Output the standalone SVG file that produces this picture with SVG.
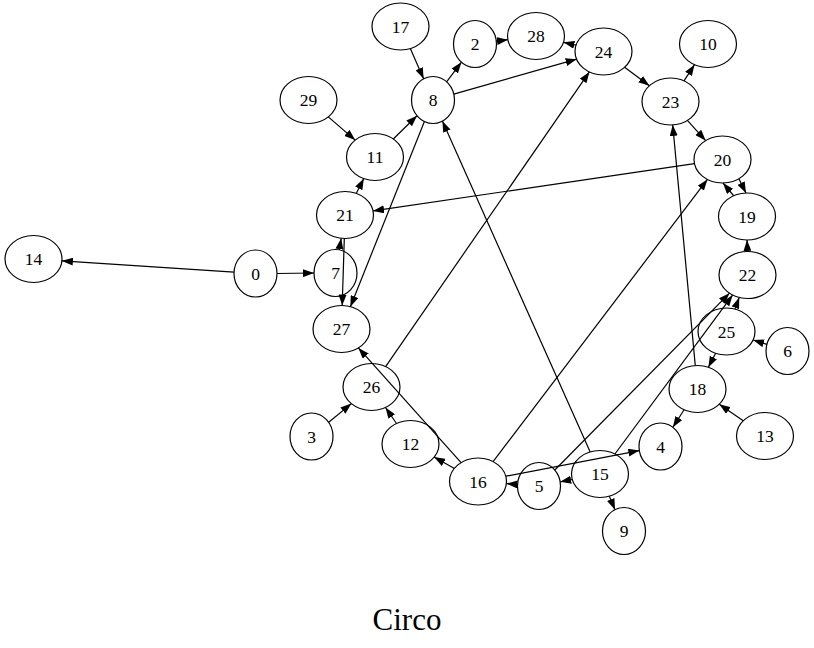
<svg xmlns="http://www.w3.org/2000/svg" width="814" height="648" viewBox="0 0 814 648">
<style>
.n ellipse{fill:none;stroke:#000;stroke-width:1.2}
.n text{font-family:"Liberation Serif","Times New Roman",serif;font-size:17.5px;text-anchor:middle;fill:#000}
.e line{stroke:#000;stroke-width:1.2;marker-end:url(#ah)}
.t{font-family:"Liberation Serif","Times New Roman",serif;font-size:31px;text-anchor:middle;fill:#000}
</style>
<defs>
<marker id="ah" markerUnits="userSpaceOnUse" viewBox="0 0 11 8" markerWidth="11" markerHeight="8" refX="11" refY="4" orient="auto"><path d="M0,0 L11,4 L0,8 z" fill="#000"/></marker>
</defs>
<rect width="814" height="648" fill="#fff"/>
<g id="edges" class="e">
<line x1="234.0" y1="272.1" x2="61.9" y2="260.9"/>
<line x1="277" y1="273.5" x2="314" y2="273"/>
<line x1="339.3" y1="249.9" x2="341.2" y2="238.3"/>
<line x1="344.3" y1="238.5" x2="342.2" y2="305.5"/>
<line x1="424.4" y1="121.5" x2="350.4" y2="306.7"/>
<line x1="694.4" y1="163.6" x2="373.1" y2="210.9"/>
<line x1="356.2" y1="193.4" x2="363.8" y2="178.6"/>
<line x1="328.3" y1="116.9" x2="355.2" y2="140.1"/>
<line x1="393.3" y1="139.0" x2="417.0" y2="115.7"/>
<line x1="410.3" y1="48.6" x2="423.6" y2="78.8"/>
<line x1="446.6" y1="81.8" x2="461.4" y2="62.2"/>
<line x1="496.3" y1="41.2" x2="507.9" y2="39.7"/>
<line x1="453.8" y1="94.1" x2="576.6" y2="59.2"/>
<line x1="576.0" y1="45.2" x2="563.5" y2="42.3"/>
<line x1="385.6" y1="366.6" x2="589.4" y2="71.9"/>
<line x1="624.6" y1="67.3" x2="649.4" y2="85.7"/>
<line x1="684.0" y1="80.8" x2="694.5" y2="64.7"/>
<line x1="687.4" y1="120.4" x2="705.6" y2="140.6"/>
<line x1="695.3" y1="365.6" x2="672.7" y2="124.9"/>
<line x1="733.5" y1="195.5" x2="723" y2="183"/>
<line x1="739" y1="179" x2="746" y2="193"/>
<line x1="747.5" y1="251.5" x2="747" y2="240"/>
<line x1="734.9" y1="309.0" x2="739.2" y2="297.5"/>
<line x1="554.8" y1="470.0" x2="729.5" y2="293.2"/>
<line x1="614.9" y1="454.0" x2="732.6" y2="295.1"/>
<line x1="715.6" y1="353.2" x2="708.4" y2="367.3"/>
<line x1="766.9" y1="344.4" x2="753.1" y2="340.0"/>
<line x1="743.2" y1="420.8" x2="719.3" y2="404.2"/>
<line x1="684.1" y1="409.8" x2="672.9" y2="427.3"/>
<line x1="505.8" y1="476.2" x2="639.3" y2="450.6"/>
<line x1="517.5" y1="484.4" x2="506.4" y2="483.6"/>
<line x1="572.3" y1="479.5" x2="560.2" y2="481.8"/>
<line x1="609.3" y1="496.2" x2="615.0" y2="509.7"/>
<line x1="590.2" y1="452.0" x2="442.4" y2="121.1"/>
<line x1="493.1" y1="461.6" x2="707.4" y2="179.4"/>
<line x1="454.4" y1="468.4" x2="434.1" y2="457.1"/>
<line x1="396.5" y1="423.5" x2="385.5" y2="407.5"/>
<line x1="328.7" y1="422.3" x2="351.4" y2="403.6"/>
<line x1="461.1" y1="462.6" x2="358.4" y2="347.9"/>
</g>
<g id="n0" class="n"><ellipse cx="255.5" cy="273.5" rx="21.5" ry="23.5"/><text x="255.5" y="279.5">0</text></g>
<g id="n2" class="n"><ellipse cx="475" cy="44" rx="21.5" ry="23.5"/><text x="475" y="50">2</text></g>
<g id="n3" class="n"><ellipse cx="311.5" cy="436.5" rx="21.5" ry="23.5"/><text x="311.5" y="442.5">3</text></g>
<g id="n4" class="n"><ellipse cx="660.5" cy="446.5" rx="21.5" ry="23.5"/><text x="660.5" y="452.5">4</text></g>
<g id="n5" class="n"><ellipse cx="539" cy="486" rx="21.5" ry="23.5"/><text x="539" y="492">5</text></g>
<g id="n6" class="n"><ellipse cx="787.5" cy="351" rx="21.5" ry="23.5"/><text x="787.5" y="357">6</text></g>
<g id="n7" class="n"><ellipse cx="335.5" cy="273" rx="21.5" ry="23.5"/><text x="335.5" y="279">7</text></g>
<g id="n8" class="n"><ellipse cx="433" cy="100" rx="21.5" ry="23.5"/><text x="433" y="106">8</text></g>
<g id="n9" class="n"><ellipse cx="624" cy="531" rx="21.5" ry="23.5"/><text x="624" y="537">9</text></g>
<g id="n10" class="n"><ellipse cx="708" cy="44" rx="28.5" ry="23.5"/><text x="708" y="50">10</text></g>
<g id="n11" class="n"><ellipse cx="375" cy="157" rx="28.5" ry="23.5"/><text x="375" y="163">11</text></g>
<g id="n12" class="n"><ellipse cx="410.5" cy="444" rx="28.5" ry="23.5"/><text x="410.5" y="450">12</text></g>
<g id="n13" class="n"><ellipse cx="765" cy="436" rx="28.5" ry="23.5"/><text x="765" y="442">13</text></g>
<g id="n14" class="n"><ellipse cx="33.5" cy="259" rx="28.5" ry="23.5"/><text x="33.5" y="265">14</text></g>
<g id="n15" class="n"><ellipse cx="600" cy="474" rx="28.5" ry="23.5"/><text x="600" y="480">15</text></g>
<g id="n16" class="n"><ellipse cx="478" cy="481.5" rx="28.5" ry="23.5"/><text x="478" y="487.5">16</text></g>
<g id="n17" class="n"><ellipse cx="400.5" cy="26.5" rx="28.5" ry="23.5"/><text x="400.5" y="32.5">17</text></g>
<g id="n18" class="n"><ellipse cx="697.5" cy="389" rx="28.5" ry="23.5"/><text x="697.5" y="395">18</text></g>
<g id="n19" class="n"><ellipse cx="747" cy="216.5" rx="28.5" ry="23.5"/><text x="747" y="222.5">19</text></g>
<g id="n20" class="n"><ellipse cx="722.5" cy="159.5" rx="28.5" ry="23.5"/><text x="722.5" y="165.5">20</text></g>
<g id="n21" class="n"><ellipse cx="345" cy="215" rx="28.5" ry="23.5"/><text x="345" y="221">21</text></g>
<g id="n22" class="n"><ellipse cx="747.5" cy="275" rx="28.5" ry="23.5"/><text x="747.5" y="281">22</text></g>
<g id="n23" class="n"><ellipse cx="670.5" cy="101.5" rx="28.5" ry="23.5"/><text x="670.5" y="107.5">23</text></g>
<g id="n24" class="n"><ellipse cx="603.5" cy="51.5" rx="28.5" ry="23.5"/><text x="603.5" y="57.5">24</text></g>
<g id="n25" class="n"><ellipse cx="726.5" cy="331.5" rx="28.5" ry="23.5"/><text x="726.5" y="337.5">25</text></g>
<g id="n26" class="n"><ellipse cx="371.5" cy="387" rx="28.5" ry="23.5"/><text x="371.5" y="393">26</text></g>
<g id="n27" class="n"><ellipse cx="341.5" cy="329" rx="28.5" ry="23.5"/><text x="341.5" y="335">27</text></g>
<g id="n28" class="n"><ellipse cx="536" cy="36" rx="28.5" ry="23.5"/><text x="536" y="42">28</text></g>
<g id="n29" class="n"><ellipse cx="308.5" cy="100" rx="28.5" ry="23.5"/><text x="308.5" y="106">29</text></g>
<text class="t" x="407" y="630">Circo</text>
</svg>
